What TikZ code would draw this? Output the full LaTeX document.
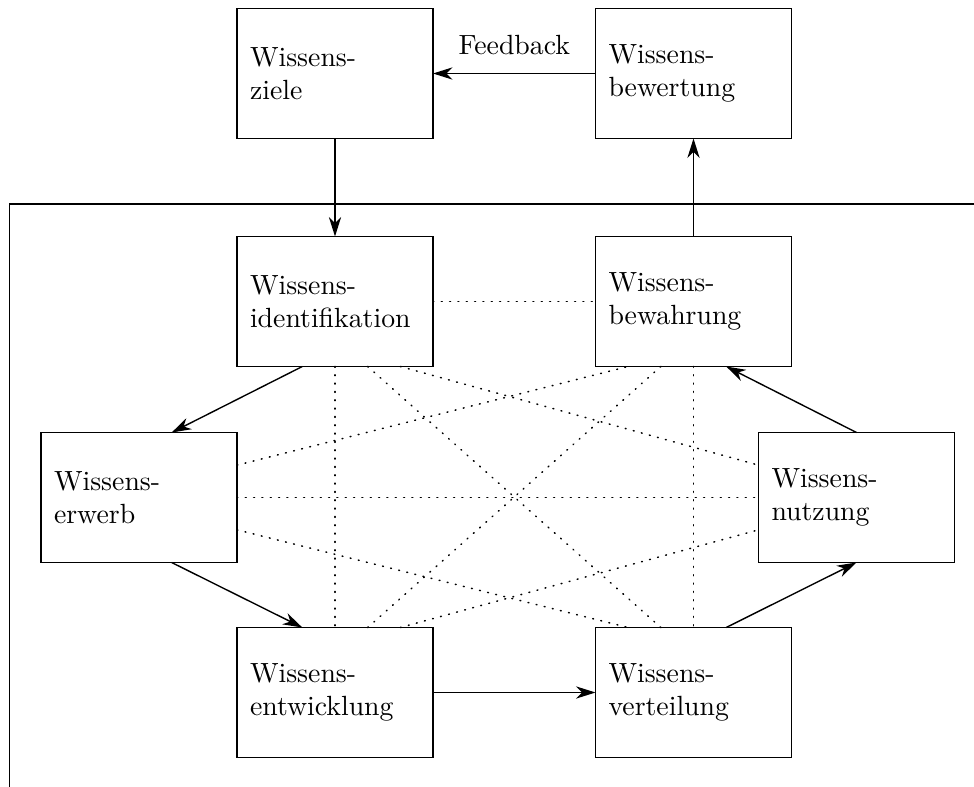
\documentclass[tikz,border=0pt]{standalone}
\usetikzlibrary{arrows.meta,calc}
\begin{document}
\begin{tikzpicture}[x=0.36pt,y=-0.36pt,
  box/.style={draw, line width=0.5pt, minimum width=70.56pt, minimum height=46.8pt,
    text width=61.2pt, inner xsep=4.68pt, inner ysep=0pt, align=left, outer sep=0pt},
  arr/.style={-{Stealth[length=7pt,width=4.4pt,inset=2.2pt]}, line width=0.5pt},
  dots/.style={line width=0.55pt, dash pattern=on 0.3pt off 2.7pt, line cap=round},
  frameline/.style={line width=0.5pt}]
\useasboundingbox (0,0) rectangle (974,787);
% boxes
\node[box] (zi) at (335,73.5)   {Wissens-\\ziele};
\node[box] (bw) at (693.5,73.5) {Wissens-\\bewertung};
\node[box] (id) at (335,301.5)  {Wissens-\\identifikation};
\node[box] (bh) at (693.5,301.5){Wissens-\\bewahrung};
\node[box] (er) at (139,497.5)  {Wissens-\\erwerb};
\node[box] (nu) at (856.5,497.5){Wissens-\\nutzung};
\node[box] (en) at (335,692.5)  {Wissens-\\entwicklung};
\node[box] (ve) at (693.5,692.5){Wissens-\\verteilung};
% frame
\coordinate (fa) at (9.5,204);
\coordinate (fb) at (974,204);
\coordinate (fc) at (9.5,787);
\draw[frameline] (fb) -- (fa) -- (fc);
% solid connectors
\draw[arr] (zi.south) -- (id.north);
\draw[arr] (bw.west) -- node[above=6.6pt, inner sep=0pt] {Feedback} (zi.east);
\draw[arr] (bh.north) -- (bw.south);
\draw[arr] ($(id.south west)+(65.33,0)$) -- ($(er.north west)+(130.67,0)$);
\draw[arr] ($(er.south west)+(130.67,0)$) -- ($(en.north west)+(65.33,0)$);
\draw[arr] (en.east) -- (ve.west);
\draw[arr] ($(ve.north west)+(130.67,0)$) -- (nu.south);
\draw[arr] (nu.north) -- ($(bh.south west)+(130.67,0)$);
% dotted connectors
\draw[dots] (id.east) -- (bh.west);
\draw[dots] (id.south) -- (en.north);
\draw[dots] (bh.south) -- (ve.north);
\draw[dots] (er.east) -- (nu.west);
\draw[dots] ($(er.north east)+(0,32.67)$) -- ($(bh.south west)+(32.67,0)$);
\draw[dots] ($(er.south east)+(0,-32.67)$) -- ($(ve.north west)+(32.67,0)$);
\draw[dots] ($(id.south west)+(163.33,0)$) -- ($(nu.north west)+(0,32.67)$);
\draw[dots] ($(id.south west)+(130.67,0)$) -- ($(ve.north west)+(65.33,0)$);
\draw[dots] ($(bh.south west)+(65.33,0)$) -- ($(en.north west)+(130.67,0)$);
\draw[dots] ($(en.north west)+(163.33,0)$) -- ($(nu.south west)+(0,-32.67)$);
\end{tikzpicture}
\end{document}
